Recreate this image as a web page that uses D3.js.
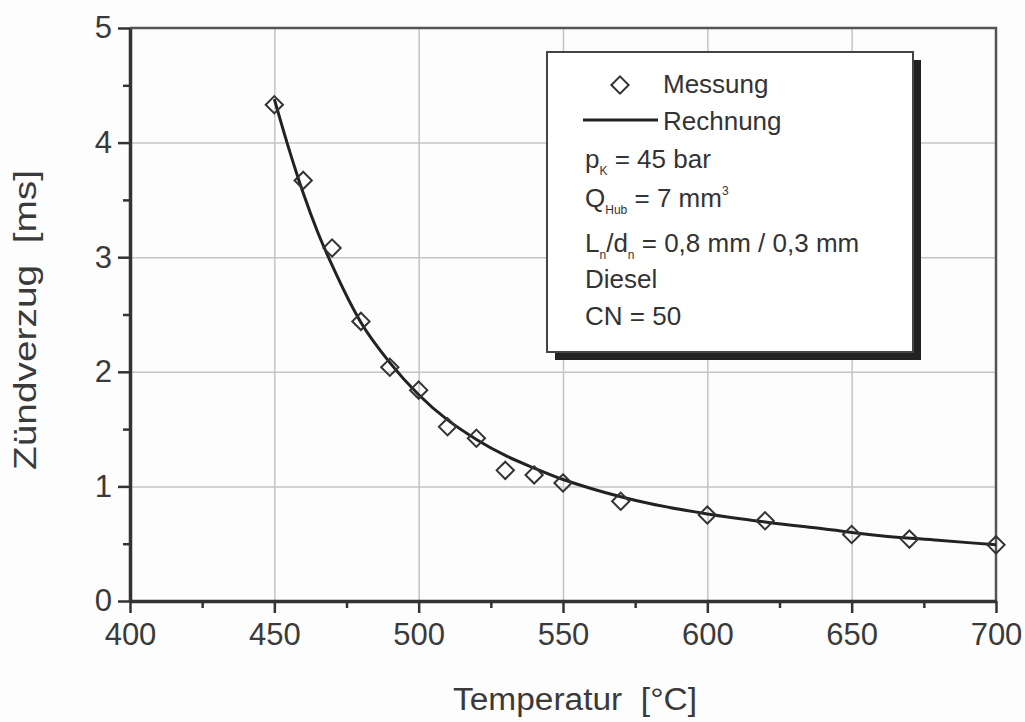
<!DOCTYPE html>
<html>
<head>
<meta charset="utf-8">
<script src="https://cdn.jsdelivr.net/npm/d3@7"></script>
<style>
  body { margin: 0; background: #fdfdfd; }
  svg { font-family: "Liberation Sans", Arial, sans-serif; }
  .axis path, .axis line { stroke: #333; }
  .axis text { fill: #3a3a3a; font-size: 31px; }
  .grid line { stroke: #c4c4c4; stroke-width: 1.5; }
  .grid path { display: none; }
  .legend text { fill: #333; font-size: 26px; }
</style>
</head>
<body>
<div id="chart"></div>
<script>
// Messwerte (Rauten)
const messT = [450, 460, 470, 480, 490, 500, 510, 520, 530, 540, 550, 570, 600, 620, 650, 670, 700];
const messV = [4.33, 3.67, 3.08, 2.44, 2.04, 1.84, 1.52, 1.42, 1.14, 1.10, 1.03, 0.87, 0.75, 0.70, 0.58, 0.54, 0.49];

// Rechnung (Linie)
const rechT = [450, 455, 460, 465, 470, 480, 490, 500, 510, 520, 530, 540, 550, 560, 570, 580, 600, 620, 640, 660, 680, 700];
const rechV = [4.38, 3.95, 3.56, 3.22, 2.93, 2.43, 2.08, 1.80, 1.58, 1.41, 1.27, 1.16, 1.06, 0.98, 0.91, 0.85, 0.76, 0.69, 0.63, 0.57, 0.53, 0.49];

// Achsen
const xTicks = [400, 450, 500, 550, 600, 650, 700];
const xMinor = [425, 475, 525, 575, 625, 675];
const yTicks = [0, 1, 2, 3, 4, 5];
const yMinor = [0.5, 1.5, 2.5, 3.5, 4.5];

const svg_width = 1025;
const svg_height = 722;
const plot = {left: 130, right: 996, top: 28, bottom: 601};

const svg = d3.select('#chart').append('svg')
  .attr('width', svg_width).attr('height', svg_height);

const xScale = d3.scaleLinear().domain([400, 700]).range([plot.left, plot.right]);
const yScale = d3.scaleLinear().domain([0, 5]).range([plot.bottom, plot.top]);

// Gitter
svg.append('g').attr('class', 'grid')
   .attr('transform', `translate(0,${plot.bottom})`)
   .call(d3.axisBottom(xScale).tickValues(xTicks.slice(1, -1))
          .tickSize(-(plot.bottom - plot.top)).tickFormat(''));
svg.append('g').attr('class', 'grid')
   .attr('transform', `translate(${plot.left},0)`)
   .call(d3.axisLeft(yScale).tickValues(yTicks.slice(1, -1))
          .tickSize(-(plot.right - plot.left)).tickFormat(''));

// Rahmen oben / rechts
svg.append('path')
   .attr('d', `M${plot.left},${plot.top}H${plot.right}V${plot.bottom}`)
   .attr('fill', 'none').attr('stroke', '#555').attr('stroke-width', 2.5);

// kleine Ticks
svg.append('g').attr('class', 'axis')
   .attr('transform', `translate(0,${plot.bottom})`)
   .call(d3.axisBottom(xScale).tickValues(xMinor).tickSize(7).tickFormat(''))
   .call(g => g.selectAll('line').attr('stroke-width', 2.5))
   .call(g => g.select('.domain').remove());
svg.append('g').attr('class', 'axis')
   .attr('transform', `translate(${plot.left},0)`)
   .call(d3.axisLeft(yScale).tickValues(yMinor).tickSize(7).tickFormat(''))
   .call(g => g.selectAll('line').attr('stroke-width', 2.5))
   .call(g => g.select('.domain').remove());

// Hauptachsen
const xAxisDraw = svg.append('g').attr('class', 'axis')
   .attr('transform', `translate(0,${plot.bottom})`)
   .call(d3.axisBottom(xScale).tickValues(xTicks).tickFormat(d3.format('d'))
          .tickSizeInner(12).tickSizeOuter(0).tickPadding(10));
xAxisDraw.select('.domain').attr('stroke-width', 3.5);
xAxisDraw.selectAll('line').attr('stroke-width', 2.5);

const yAxisDraw = svg.append('g').attr('class', 'axis')
   .attr('transform', `translate(${plot.left},0)`)
   .call(d3.axisLeft(yScale).tickValues(yTicks).tickFormat(d3.format('d'))
          .tickSizeInner(12).tickSizeOuter(0).tickPadding(6));
yAxisDraw.select('.domain').attr('stroke-width', 3.5);
yAxisDraw.selectAll('line').attr('stroke-width', 2.5);

// Achsentitel
svg.append('text')
   .attr('x', 575).attr('y', 710)
   .attr('text-anchor', 'middle')
   .attr('textLength', 244).attr('lengthAdjust', 'spacingAndGlyphs')
   .style('font-size', '31px').style('fill', '#3a3a3a')
   .text('Temperatur\u00A0 [°C]');
svg.append('text')
   .attr('transform', 'translate(36,320) rotate(-90)')
   .attr('text-anchor', 'middle')
   .attr('textLength', 300).attr('lengthAdjust', 'spacingAndGlyphs')
   .style('font-size', '31px').style('fill', '#3a3a3a')
   .text('Zündverzug\u00A0 [ms]');

// Rechnung
const line = d3.line()
  .x((d, i) => xScale(rechT[i]))
  .y(d => yScale(d))
  .curve(d3.curveMonotoneX);
svg.append('path')
   .datum(rechV)
   .attr('d', line)
   .attr('fill', 'none').attr('stroke', '#222').attr('stroke-width', 3);

// Messung
const diamond = d3.symbol().type(d3.symbolDiamond2).size(190);
svg.selectAll('.mess')
   .data(messV)
   .enter()
   .append('path')
   .attr('class', 'mess')
   .attr('transform', (d, i) => `translate(${xScale(messT[i])},${yScale(d)})`)
   .attr('d', diamond)
   .attr('fill', 'none').attr('stroke', '#333').attr('stroke-width', 2);

// Legende
const lg = svg.append('g').attr('class', 'legend');
lg.append('rect').attr('x', 555).attr('y', 60).attr('width', 366).attr('height', 300).attr('fill', '#222');
lg.append('rect').attr('x', 547).attr('y', 52).attr('width', 366).attr('height', 300)
  .attr('fill', '#fff').attr('stroke', '#444').attr('stroke-width', 2);

lg.append('path').attr('transform', 'translate(620,85)').attr('d', diamond)
  .attr('fill', 'none').attr('stroke', '#333').attr('stroke-width', 2);
lg.append('text').attr('x', 663).attr('y', 93).text('Messung');
lg.append('line').attr('x1', 583).attr('x2', 658).attr('y1', 120).attr('y2', 120)
  .attr('stroke', '#222').attr('stroke-width', 3);
lg.append('text').attr('x', 663).attr('y', 130).text('Rechnung');

const t1 = lg.append('text').attr('x', 585).attr('y', 168);
t1.append('tspan').text('p');
t1.append('tspan').attr('dy', 7).style('font-size', '12px').text('K');
t1.append('tspan').attr('dy', -7).text(' = 45 bar');

const t2 = lg.append('text').attr('x', 585).attr('y', 207);
t2.append('tspan').text('Q');
t2.append('tspan').attr('dy', 7).style('font-size', '12px').text('Hub');
t2.append('tspan').attr('dy', -7).text(' = 7 mm');
t2.append('tspan').attr('dy', -12).style('font-size', '12px').text('3');

const t3 = lg.append('text').attr('x', 585).attr('y', 252);
t3.append('tspan').text('L');
t3.append('tspan').attr('dy', 7).style('font-size', '12px').text('n');
t3.append('tspan').attr('dy', -7).text('/d');
t3.append('tspan').attr('dy', 7).style('font-size', '12px').text('n');
t3.append('tspan').attr('dy', -7).text(' = 0,8 mm / 0,3 mm');

lg.append('text').attr('x', 585).attr('y', 288).text('Diesel');
lg.append('text').attr('x', 585).attr('y', 325).text('CN = 50');
</script>
</body>
</html>
